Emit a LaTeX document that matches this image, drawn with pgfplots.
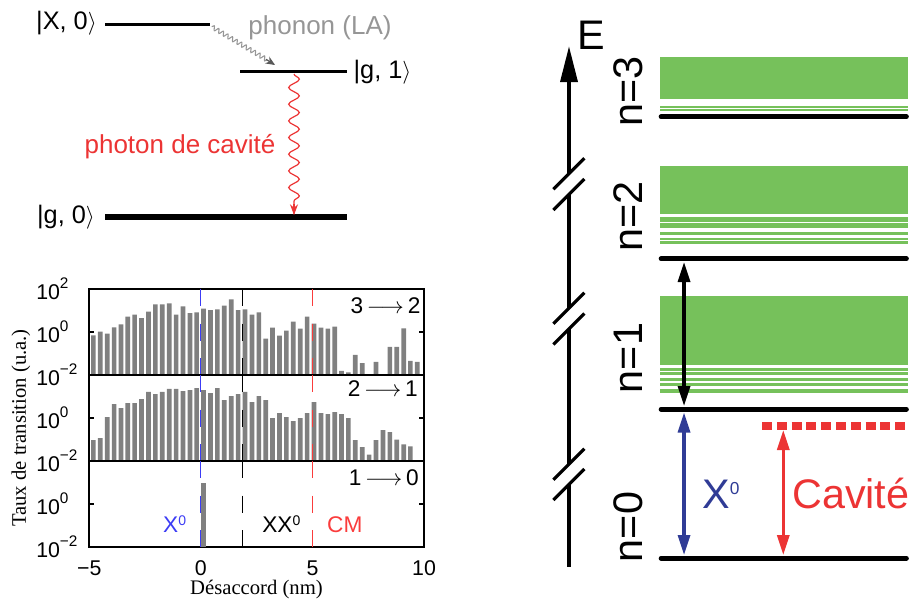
\documentclass[border=0pt]{standalone}
\usepackage{fontspec}
\setmainfont{Liberation Serif}
\setsansfont{Liberation Sans}
\usepackage{pgfplots}
\pgfplotsset{compat=1.18}
\usetikzlibrary{decorations.pathmorphing, arrows.meta}

\definecolor{barg}{RGB}{128,128,128}
\definecolor{lvlgreen}{RGB}{118,193,91}
\definecolor{xblue}{RGB}{48,60,150}
\definecolor{cred}{RGB}{236,52,52}
\definecolor{lblue}{RGB}{60,60,245}
\definecolor{lred}{RGB}{250,60,60}
\definecolor{phgray}{RGB}{150,150,150}

\newcommand\pw[1]{10\raisebox{0.5em}{\fontsize{11.5}{12}\selectfont #1}}
\newcommand\supz[2]{\raisebox{#2}{\fontsize{#1}{#1}\selectfont 0}}
\newcommand\ket[1]{|#1$\big\rangle$}

\pgfplotsset{
  barpanel/.style={
    scale only axis, width=251pt, height=64.5pt, anchor=south west,
    xmin=-5, xmax=10, ymin=1e-2, ymax=1e2,
    enlargelimits=false,
    ybar, bar width=0.21,
    ytick={1e-2,1,1e2}, yminorticks=false,
    xtick={-5,0,5,10}, xticklabels={},
    tick align=inside, major tick length=3.5pt,
    axis line style={line width=1.4pt},
    every tick/.style={black, line width=0.8pt},
    yticklabel style={anchor=west, xshift=-40pt, inner sep=0pt, font=\sffamily\fontsize{16}{18}\selectfont},
    xticklabel style={yshift=-7pt, font=\sffamily\fontsize{16}{18}\selectfont},
    clip=true,
  },
}
\tikzset{
  vl/.style={line width=0.8pt, dash pattern=on 13pt off 13pt},
  plab/.style={anchor=east, inner sep=0pt, font=\sffamily\fontsize{17}{19}\selectfont},
  brk/.style={line width=2.4pt},
  arr/.style={line width=2.4pt, {Triangle[length=15pt,width=9pt]}-{Triangle[length=15pt,width=9pt]}},
  nlab/.style={rotate=90, font=\sffamily\fontsize{31}{34}\selectfont},
}

\begin{document}
\begin{tikzpicture}
% ---------------- canvas for the diagrams ----------------
\begin{axis}[name=canvas, at={(0,0)}, anchor=south west, scale only axis,
  width=684pt, height=453pt, xmin=0, xmax=912, ymin=0, ymax=604,
  y dir=reverse, hide axis, clip=false]
\path (0,0) rectangle (912,604);
% left diagram
\draw[line width=2.4pt] (105,24.3) -- (210,24.3);
\draw[line width=2.4pt] (240,71.7) -- (346.7,71.7);
\draw[line width=4.5pt] (105,217.3) -- (346.7,217.3);
\draw[phgray, line width=0.8pt, decorate, decoration={snake, amplitude=1.6pt, segment length=4pt, post length=5pt}] (211.7,26.7) -- (274,64);
\draw[-{Stealth[length=7pt,width=6pt]}, black!65, line width=0.8pt] (266,59.3) -- (275,65);
\node[phgray, font=\sffamily\fontsize{19.5}{22}\selectfont] at (320,27.5) {phonon (LA)};
\draw[cred, line width=0.9pt, decorate, decoration={snake, amplitude=4pt, segment length=12.5pt, post length=8pt}] (294,74) -- (294,214);
\draw[-{Stealth[length=8pt,width=6pt]}, cred, line width=0.9pt] (294,204) -- (294,215);
\node[cred, font=\sffamily\fontsize{19.5}{22}\selectfont] at (180,146.7) {photon de cavité};
\node[font=\sffamily\fontsize{19}{21}\selectfont] at (66.5,23) {\ket{X, 0}};
\node[font=\sffamily\fontsize{19}{21}\selectfont] at (382.5,72) {\ket{g, 1}};
\node[font=\sffamily\fontsize{19}{21}\selectfont] at (66,217) {\ket{g, 0}};
% axis labels of the bar panels
\node[rotate=90, font=\fontsize{15.5}{17}\selectfont] at (21,428) {Taux de transition (u.a.)};
\node[font=\fontsize{15.5}{17}\selectfont] at (256.5,590) {Désaccord (nm)};
% right diagram : energy axis
\fill (569,46.7) -- (560,82) -- (578,82) -- cycle;
\draw[brk] (569,80) -- (569,173.8);
\draw[brk] (569,194.5) -- (569,308.3);
\draw[brk] (569,329) -- (569,464.2);
\draw[brk] (569,484.5) -- (569,567);
\draw[brk] (553.4,189.3) -- (584.4,158.3);
\draw[brk] (553.4,210.0) -- (584.4,179.0);
\draw[brk] (553.4,323.8) -- (584.4,292.8);
\draw[brk] (553.4,344.5) -- (584.4,313.5);
\draw[brk] (553.4,479.7) -- (584.4,448.7);
\draw[brk] (553.4,500.0) -- (584.4,469.0);
\node[font=\sffamily\fontsize{31}{34}\selectfont] at (591,35) {E};
% green manifolds
\fill[lvlgreen] (660,57.3) rectangle (907.7,99.3);
\fill[lvlgreen] (660,106) rectangle (907.7,108);
\fill[lvlgreen] (660,108.7) rectangle (907.7,110.7);
\fill[lvlgreen] (660,165.7) rectangle (907.7,214.3);
\fill[lvlgreen] (660,216.7) rectangle (907.7,222);
\fill[lvlgreen] (660,222.7) rectangle (907.7,227.7);
\fill[lvlgreen] (660,231.7) rectangle (907.7,235);
\fill[lvlgreen] (660,237.7) rectangle (907.7,240);
\fill[lvlgreen] (660,240.7) rectangle (907.7,244);
\fill[lvlgreen] (660,296) rectangle (907.7,365);
\fill[lvlgreen] (660,367.7) rectangle (907.7,371);
\fill[lvlgreen] (660,371.7) rectangle (907.7,375.3);
\fill[lvlgreen] (660,377.7) rectangle (907.7,381);
\fill[lvlgreen] (660,382.7) rectangle (907.7,386);
\fill[lvlgreen] (660,389.3) rectangle (907.7,392.7);
% levels
\draw[line width=3.5pt, line cap=round] (661,116.7) -- (906.5,116.7);
\draw[line width=3.5pt, line cap=round] (661,258.7) -- (906.5,258.7);
\draw[line width=3.5pt, line cap=round] (661,409.3) -- (906.5,409.3);
\draw[line width=3.5pt, line cap=round] (661,558.3) -- (906.5,558.3);
\draw[cred, line width=5.5pt, dash pattern=on 7.5pt off 3.6pt] (762,426) -- (907,426);
\node[nlab] at (628.3,91.7) {n=3};
\node[nlab] at (628.3,216.7) {n=2};
\node[nlab] at (628.3,358) {n=1};
\node[nlab] at (628.3,527) {n=0};
% arrows
\draw[arr] (684,262) -- (684,406);
\draw[arr, xblue] (684,412.5) -- (684,555);
\draw[arr, cred] (783.3,430) -- (783.3,555);
\node[xblue, anchor=base west, inner sep=0pt, font=\sffamily\fontsize{31}{34}\selectfont] at (702,508) {X\supz{13}{10pt}};
\node[cred, anchor=base west, inner sep=0pt, font=\sffamily\fontsize{31}{34}\selectfont] at (792,508) {Cavité};
\end{axis}

% ---------------- panel 1 : 3 -> 2 ----------------
\begin{axis}[ymode=log, log origin y=infty, barpanel, at={(67pt,171.75pt)}, yticklabels={\pw{−2},\pw{0},\pw{2}}]
\addplot[fill=barg, draw=none] coordinates {
(-4.82,0.70) (-4.51,1.04) (-4.20,0.84) (-3.89,1.66) (-3.58,2.29) (-3.28,5.25)
(-2.97,6.46) (-2.66,4.37) (-2.35,8.9) (-2.04,19.1) (-1.73,19.1) (-1.42,21.4)
(-1.11,6.46) (-0.80,15.5) (-0.49,7.5) (-0.19,8.1) (0.12,12.3) (0.43,10.5)
(0.74,11.2) (1.05,17.0) (1.36,33.1) (1.67,10.5) (1.98,11.2) (2.29,6.46)
(2.60,8.1) (2.91,0.49) (3.21,1.58) (3.52,0.68) (3.83,1.15) (4.14,3.02)
(4.45,1.45) (4.76,5.25) (5.07,2.45) (5.38,1.58) (5.69,1.45) (6.00,1.78)
(6.30,0.0155) (6.61,0.0133) (6.92,0.087) (7.23,0.036) (7.85,0.041)
(8.47,0.204) (8.78,0.204) (9.09,1.48) (9.39,0.046) (9.70,0.041)
};
\draw[lblue, vl] (axis cs:0,100) -- (axis cs:0,0.01);
\draw[black, vl] (axis cs:1.85,100) -- (axis cs:1.85,0.01);
\draw[lred, vl] (axis cs:5,100) -- (axis cs:5,0.01);
\node[plab] at (rel axis cs:0.99,0.81) {3\,$\longrightarrow$\,2};
\end{axis}

% ---------------- panel 2 : 2 -> 1 ----------------
\begin{axis}[ymode=log, log origin y=infty, barpanel, at={(67pt,107.25pt)}, yticklabels={\pw{−2},\pw{0},{}}]
\addplot[fill=barg, draw=none] coordinates {
(-4.82,0.093) (-4.51,0.115) (-4.20,1.10) (-3.89,4.47) (-3.58,2.88) (-3.28,4.90)
(-2.97,4.90) (-2.66,7.6) (-2.35,16.2) (-2.04,12.9) (-1.73,16.2) (-1.42,22.4)
(-1.11,22.4) (-0.80,17.8) (-0.49,20.0) (-0.19,24.5) (0.12,20.0) (0.43,14.5)
(0.74,24.5) (1.05,6.76) (1.36,10.5) (1.67,12.9) (1.98,16.2) (2.29,5.5)
(2.60,10.5) (2.91,6.76) (3.21,0.98) (3.52,1.70) (3.83,1.10) (4.14,0.71)
(4.45,0.98) (4.76,1.70) (5.07,5.5) (5.38,1.70) (5.69,1.51) (6.00,1.86)
(6.30,1.51) (6.61,0.98) (6.92,0.093) (7.23,0.044) (7.54,0.020) (7.85,0.093)
(8.16,0.27) (8.47,0.22) (8.78,0.10) (9.09,0.060) (9.39,0.048)
};
\draw[lblue, vl] (axis cs:0,100) -- (axis cs:0,0.01);
\draw[black, vl] (axis cs:1.85,100) -- (axis cs:1.85,0.01);
\draw[lred, vl] (axis cs:5,100) -- (axis cs:5,0.01);
\node[plab] at (rel axis cs:0.982,0.84) {2\,$\longrightarrow$\,1};
\end{axis}

% ---------------- panel 3 : 1 -> 0 ----------------
\begin{axis}[ymode=log, log origin y=infty, barpanel, at={(67pt,42.75pt)}, yticklabels={\pw{−2},\pw{0},{}},
  xticklabels={−5,0,5,10}]
\addplot[fill=barg, draw=none] coordinates {(0.12,9.1)};
\draw[lblue, vl] (axis cs:0,100) -- (axis cs:0,0.01);
\draw[black, vl] (axis cs:1.85,100) -- (axis cs:1.85,0.01);
\draw[lred, vl] (axis cs:5,100) -- (axis cs:5,0.01);
\node[plab] at (rel axis cs:0.985,0.81) {1\,$\longrightarrow$\,0};
\node[lblue, anchor=base west, inner sep=0pt, font=\sffamily\fontsize{17}{19}\selectfont] at (rel axis cs:0.22,0.174) {X\supz{10.5}{4.6pt}};
\node[black, anchor=base west, inner sep=0pt, font=\sffamily\fontsize{17}{19}\selectfont] at (rel axis cs:0.516,0.174) {XX\supz{10.5}{4.6pt}};
\node[lred, anchor=base west, inner sep=0pt, font=\sffamily\fontsize{17}{19}\selectfont] at (rel axis cs:0.71,0.174) {CM};
\end{axis}
\end{tikzpicture}
\end{document}
